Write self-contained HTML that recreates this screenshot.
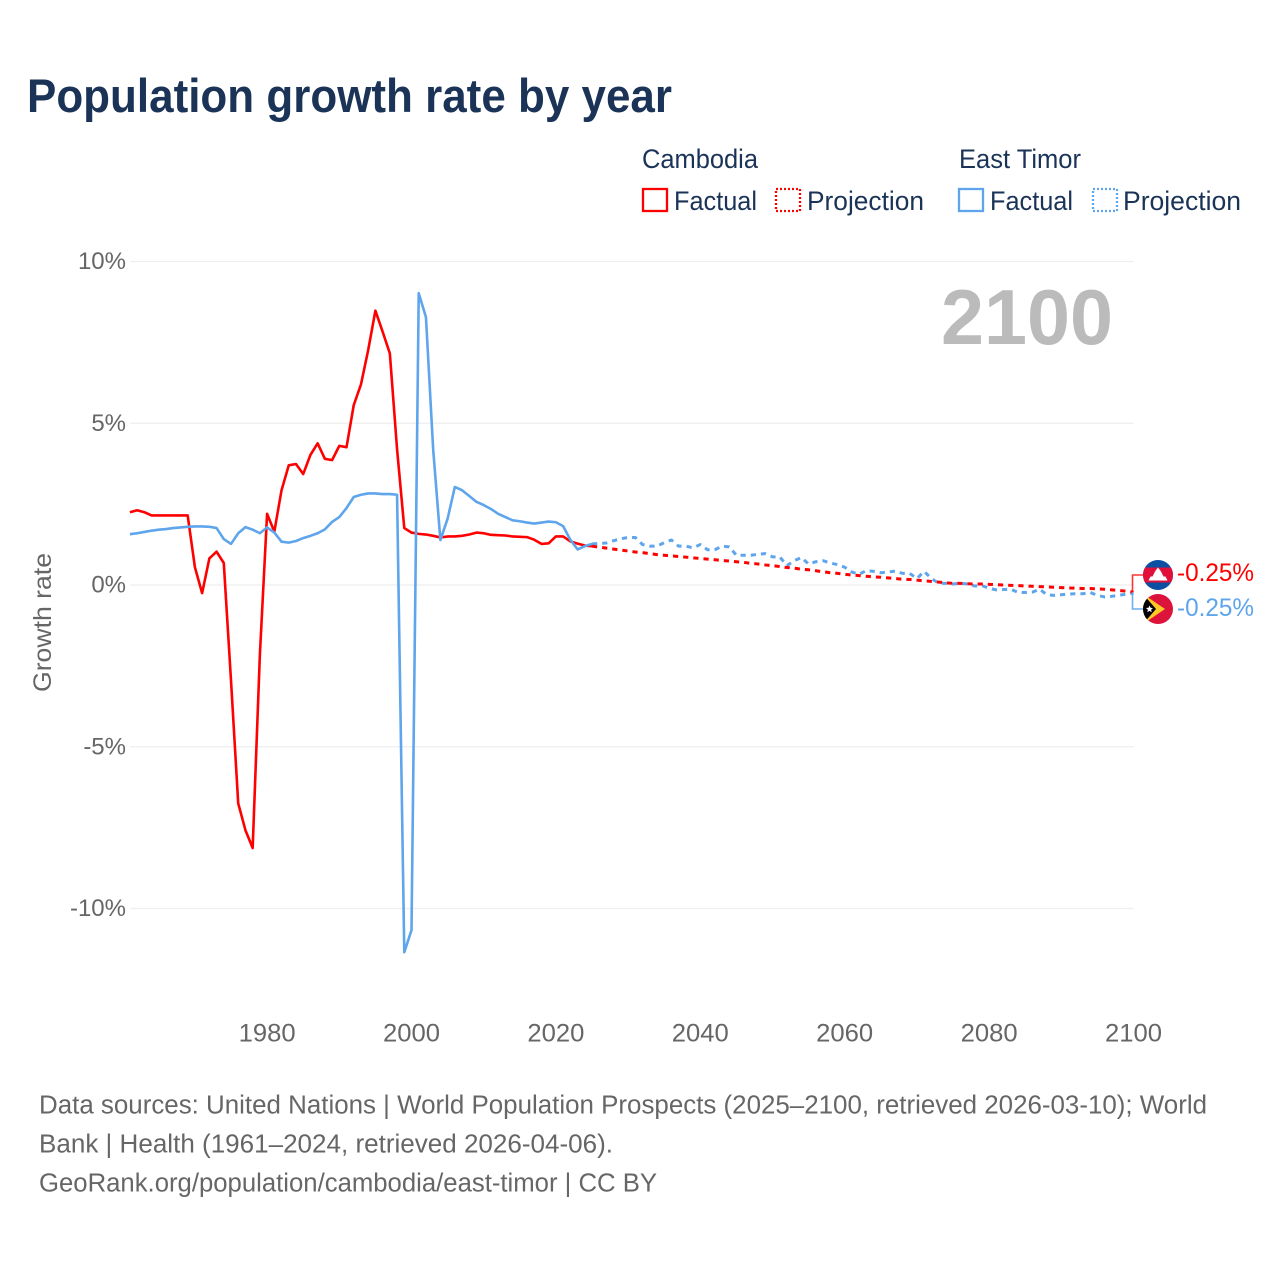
<!DOCTYPE html>
<html lang="en">
<head>
<meta charset="utf-8">
<title>Population growth rate by year</title>
<style>
html,body{margin:0;padding:0;background:#fff;}
svg{display:block;font-family:"Liberation Sans",sans-serif;}
</style>
</head>
<body>
<svg id="chart" xmlns="http://www.w3.org/2000/svg" width="1280" height="1280" viewBox="0 0 1280 1280">
  <defs>
    <clipPath id="clip-kh"><circle cx="1158" cy="575" r="15"/></clipPath>
    <clipPath id="clip-tl"><circle cx="1158" cy="609" r="15"/></clipPath>
  </defs>
  <rect width="1280" height="1280" fill="#fff"/>
  <text x="27" y="112" font-size="47" font-weight="700" fill="#1a3357" textLength="645" lengthAdjust="spacingAndGlyphs">Population growth rate by year</text>

  <g font-size="27" fill="#1a3357">
    <text x="642" y="168" textLength="116" lengthAdjust="spacingAndGlyphs">Cambodia</text>
    <rect x="643" y="189" width="24" height="22" fill="none" stroke="#ff0000" stroke-width="2.3"/>
    <text x="674" y="210" textLength="83" lengthAdjust="spacingAndGlyphs">Factual</text>
    <rect x="776" y="189" width="24" height="22" fill="none" stroke="#ff0000" stroke-width="2.3" stroke-dasharray="2 2"/>
    <text x="807" y="210" textLength="117" lengthAdjust="spacingAndGlyphs">Projection</text>
    <text x="959" y="168" textLength="122" lengthAdjust="spacingAndGlyphs">East Timor</text>
    <rect x="959" y="189" width="24" height="22" fill="none" stroke="#5ea5ec" stroke-width="2.3"/>
    <text x="990" y="210" textLength="83" lengthAdjust="spacingAndGlyphs">Factual</text>
    <rect x="1093" y="189" width="24" height="22" fill="none" stroke="#5ea5ec" stroke-width="2.3" stroke-dasharray="2 2"/>
    <text x="1123" y="210" textLength="118" lengthAdjust="spacingAndGlyphs">Projection</text>
  </g>

  <g id="grid"></g>
  <g id="y-ticks" font-size="24" fill="#666" text-anchor="end"></g>
  <g id="x-ticks" font-size="25" fill="#666" text-anchor="middle"></g>
  <text transform="translate(51,622.5) rotate(-90)" font-size="25" fill="#666" text-anchor="middle" textLength="139" lengthAdjust="spacingAndGlyphs">Growth rate</text>
  <text x="941" y="344" font-size="78" font-weight="700" fill="#bbbbbb" textLength="172" lengthAdjust="spacingAndGlyphs">2100</text>

  <g id="series" fill="none" stroke-width="2.6" stroke-linejoin="round"></g>

  <g>
    <path d="M1143 575H1132.5V592" fill="none" stroke="#ff0000" stroke-opacity="0.8" stroke-width="1.6"/>
    <path d="M1143 609H1132.5V592" fill="none" stroke="#5ea5ec" stroke-opacity="0.9" stroke-width="1.6"/>
    <g clip-path="url(#clip-kh)">
      <rect x="1143" y="560" width="30" height="30" fill="#0b4ea2"/>
      <rect x="1143" y="567.5" width="30" height="15" fill="#e0103a"/>
      <path d="M1148.5 580.5L1150.5 576.5H1152.5L1155 571.5L1158 567.5L1161 571.5L1163.5 576.5H1165.5L1167.5 580.5Z" fill="#fff"/>
    </g>
    <g clip-path="url(#clip-tl)">
      <rect x="1143" y="594" width="30" height="30" fill="#dc143c"/>
      <path d="M1143 594L1165 609L1143 624Z" fill="#ffc726"/>
      <path d="M1143 594L1156 609L1143 624Z" fill="#000"/>
      <path d="M1149.5 605.5L1150.5 607.8L1153 608L1151.1 609.7L1151.7 612.2L1149.5 610.9L1147.3 612.2L1147.9 609.7L1146 608L1148.5 607.8Z" fill="#fff"/>
    </g>
    <text x="1177" y="581" font-size="25" fill="#ff0000" textLength="77" lengthAdjust="spacingAndGlyphs">-0.25%</text>
    <text x="1177" y="616" font-size="25" fill="#5ea5ec" textLength="77" lengthAdjust="spacingAndGlyphs">-0.25%</text>
  </g>

  <g font-size="25.5" fill="#666">
    <text x="39" y="1113.5" textLength="1168" lengthAdjust="spacingAndGlyphs">Data sources: United Nations | World Population Prospects (2025–2100, retrieved 2026-03-10); World</text>
    <text x="39" y="1152.5" textLength="574" lengthAdjust="spacingAndGlyphs">Bank | Health (1961–2024, retrieved 2026-04-06).</text>
    <text x="39" y="1191.5" textLength="618" lengthAdjust="spacingAndGlyphs">GeoRank.org/population/cambodia/east-timor | CC BY</text>
  </g>
</svg>
<script>
const firstFactualYear = 1961;
const firstProjectionYear = 2025;
const xTickYears = [1980, 2000, 2020, 2040, 2060, 2080, 2100];
const yTickValues = [10, 5, 0, -5, -10];
const cambodiaFactual = [
  2.25, 2.31, 2.25, 2.15, 2.15, 2.15, 2.15, 2.15, 2.15, 0.55,
  -0.25, 0.82, 1.03, 0.68, -2.95, -6.75, -7.58, -8.13, -2.15, 2.2,
  1.65, 2.93, 3.7, 3.74, 3.43, 4.02, 4.38, 3.9, 3.86, 4.3,
  4.26, 5.56, 6.2, 7.26, 8.48, 7.83, 7.16, 4.2, 1.76, 1.62,
  1.58, 1.56, 1.52, 1.47, 1.5, 1.5, 1.52, 1.56, 1.62, 1.6,
  1.55, 1.54, 1.53, 1.5, 1.49, 1.48, 1.4, 1.27, 1.29, 1.5,
  1.5, 1.35, 1.28, 1.22, 1.2
];
const eastTimorFactual = [
  1.57, 1.6, 1.64, 1.68, 1.71, 1.73, 1.76, 1.78, 1.8, 1.81,
  1.81, 1.8, 1.76, 1.42, 1.27, 1.6, 1.79, 1.71, 1.6, 1.78,
  1.62, 1.34, 1.31, 1.36, 1.45, 1.52, 1.6, 1.72, 1.95, 2.1,
  2.38, 2.72, 2.79, 2.83, 2.83, 2.81, 2.81, 2.79, -11.35, -10.67,
  9.02, 8.28, 4.2, 1.39, 2.05, 3.03, 2.93, 2.75, 2.57, 2.47,
  2.35, 2.2, 2.1, 2.0, 1.97, 1.93, 1.9, 1.93, 1.96, 1.94,
  1.82, 1.4, 1.1, 1.2, 1.27
];
const cambodiaProjection = [
  1.2, 1.17, 1.14, 1.11, 1.08, 1.05, 1.02, 1.0, 0.97, 0.94,
  0.92, 0.9, 0.88, 0.86, 0.84, 0.82, 0.8, 0.78, 0.76, 0.74,
  0.72, 0.7, 0.67, 0.65, 0.62, 0.6, 0.57, 0.54, 0.52, 0.49,
  0.47, 0.44, 0.41, 0.38, 0.36, 0.33, 0.31, 0.29, 0.27, 0.25,
  0.24, 0.22, 0.2, 0.18, 0.17, 0.15, 0.13, 0.11, 0.09, 0.07,
  0.05, 0.05, 0.04, 0.03, 0.03, 0.02, 0.01, 0, -0.01, -0.02,
  -0.03, -0.04, -0.05, -0.06, -0.07, -0.08, -0.09, -0.1, -0.11, -0.11,
  -0.12, -0.13, -0.15, -0.17, -0.19, -0.22
];
const eastTimorProjection = [
  1.27, 1.28, 1.3, 1.37, 1.43, 1.47, 1.47, 1.25, 1.2, 1.2,
  1.31, 1.39, 1.2, 1.2, 1.15, 1.25, 1.09, 1.09, 1.2, 1.18,
  0.92, 0.92, 0.92, 0.95, 0.97, 0.87, 0.87, 0.6, 0.75, 0.85,
  0.65, 0.72, 0.75, 0.68, 0.63, 0.55, 0.4, 0.33, 0.45, 0.42,
  0.38, 0.4, 0.43, 0.36, 0.36, 0.2, 0.42, 0.2, 0.06, 0.05,
  0.03, 0.05, 0.03, -0.03, -0.02, -0.1, -0.15, -0.14, -0.13, -0.23,
  -0.23, -0.22, -0.13, -0.3, -0.32, -0.3, -0.28, -0.27, -0.27, -0.23,
  -0.32, -0.37, -0.35, -0.32, -0.28, -0.25
];
const seriesColors = { cambodia: '#ff0000', eastTimor: '#5ea5ec' };

const SVG_NS = 'http://www.w3.org/2000/svg';
function xScale(year) { return 1133.5 + (year - 2100) * 7.22; }
function yScale(value) { return 585 - value * 32.35; }
function linePath(firstYear, values) {
  return values.map(function (v, i) {
    return (i ? 'L' : 'M') + xScale(firstYear + i).toFixed(2) + ' ' + yScale(v).toFixed(2);
  }).join('');
}

const gridGroup = document.getElementById('grid');
const yTickGroup = document.getElementById('y-ticks');
yTickValues.forEach(function (v) {
  const line = document.createElementNS(SVG_NS, 'line');
  
  
  line.setAttribute('x1', xScale(firstFactualYear));
  line.setAttribute('x2', xScale(2100));
  line.setAttribute('y1', yScale(v));
  line.setAttribute('y2', yScale(v));
  line.setAttribute('stroke', '#eeeeee');
  line.setAttribute('stroke-width', '1.2');
  gridGroup.appendChild(line);
  const label = document.createElementNS(SVG_NS, 'text');
  
  
  label.setAttribute('x', 126);
  label.setAttribute('y', yScale(v) + 7.5);
  label.textContent = v + '%';
  yTickGroup.appendChild(label);
});

const xTickGroup = document.getElementById('x-ticks');
xTickYears.forEach(function (year) {
  const label = document.createElementNS(SVG_NS, 'text');
  
  
  label.setAttribute('x', xScale(year));
  label.setAttribute('y', 1041.5);
  label.setAttribute('textLength', 57);
  label.setAttribute('lengthAdjust', 'spacingAndGlyphs');
  label.textContent = String(year);
  xTickGroup.appendChild(label);
});

const seriesGroup = document.getElementById('series');
function addLine(name, firstYear, values, color, dashed) {
  const path = document.createElementNS(SVG_NS, 'path');
  
  
  path.setAttribute('d', linePath(firstYear, values));
  path.setAttribute('stroke', color);
  if (dashed) {
    path.setAttribute('stroke-dasharray', '5.2 5');
    path.setAttribute('stroke-width', '3');
  }
  seriesGroup.appendChild(path);
}
addLine('cambodia-factual-line', firstFactualYear, cambodiaFactual, seriesColors.cambodia, false);
addLine('east-timor-projection-line', firstProjectionYear, eastTimorProjection, seriesColors.eastTimor, true);
addLine('cambodia-projection-line', firstProjectionYear, cambodiaProjection, seriesColors.cambodia, true);
addLine('east-timor-factual-line', firstFactualYear, eastTimorFactual, seriesColors.eastTimor, false);
</script>
</body>
</html>
